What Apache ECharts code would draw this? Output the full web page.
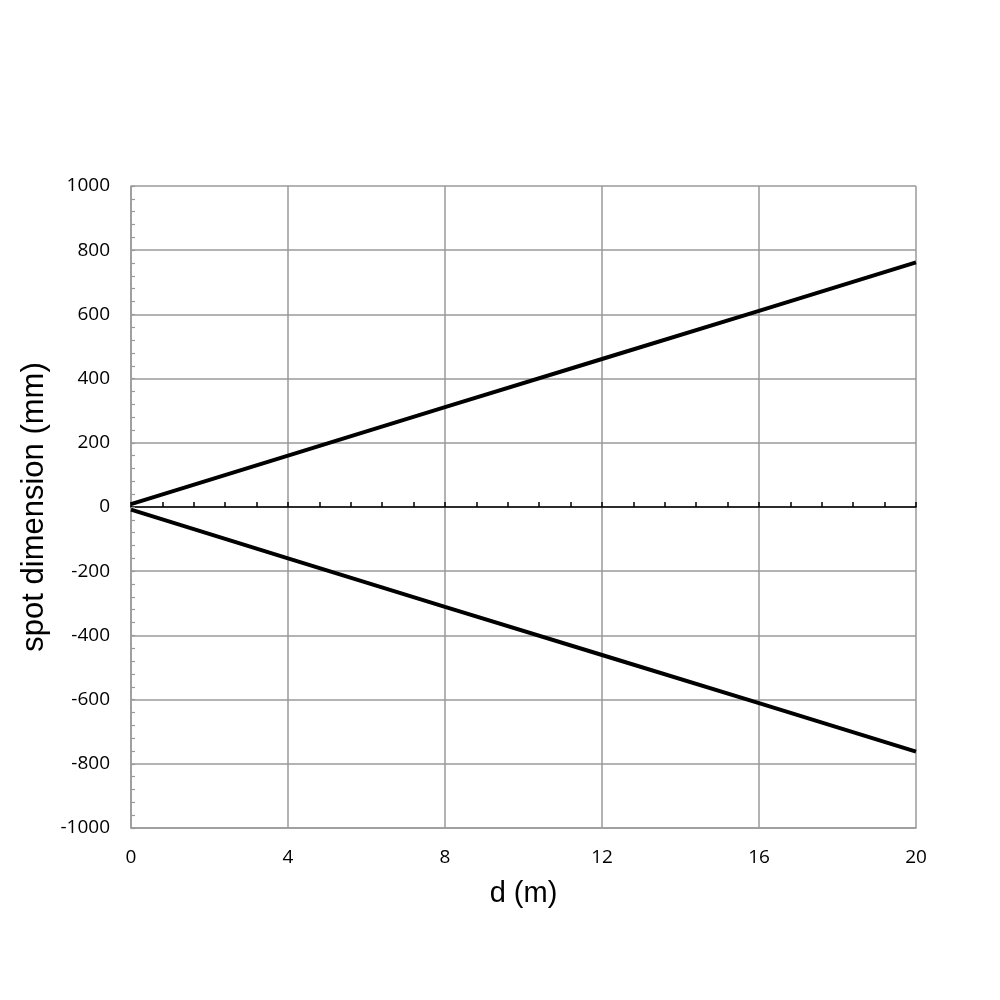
<!DOCTYPE html>
<html>
<head>
<meta charset="utf-8">
<script src="https://cdn.jsdelivr.net/npm/echarts@6/dist/echarts.min.js"></script>
<style>html,body{margin:0;padding:0;background:#fff}#c{width:1000px;height:1000px}</style>
</head>
<body>
<div id="c"></div>
<script>
var distances = [0, 4, 8, 12, 16, 20];
var upperEdge = [9, 160, 311, 461, 611, 762];
var lowerEdge = [-8, -160, -311, -461, -611, -762];
var xTitle = 'd (m)';
var yTitle = 'spot dimension (mm)';

function pairs(xs, ys) { return xs.map(function (x, i) { return [x, ys[i]]; }); }

var grey = '#9a9a9a';
var chart = echarts.init(document.getElementById('c'));
chart.setOption({
  animation: false,
  backgroundColor: '#fff',
  grid: { left: 131, right: 84, top: 186, bottom: 172 },
  xAxis: [{
    type: 'value', min: 0, max: 20, interval: 4, position: 'bottom',
    axisLine: { onZero: false, show: true, lineStyle: { color: grey, width: 1.5 } },
    axisTick: { show: false },
    axisLabel: { margin: 20, fontFamily: 'Open Sans', fontSize: 19, color: '#000' },
    splitLine: { show: true, lineStyle: { color: grey, width: 1.5 } },
    name: xTitle, nameLocation: 'middle', nameGap: 51,
    nameTextStyle: { fontFamily: 'Liberation Sans', fontSize: 29, color: '#000' }
  }, {
    type: 'value', min: 0, max: 20, interval: 0.8, position: 'bottom',
    axisLine: { onZero: true, onZeroAxisIndex: 0, show: true, lineStyle: { color: '#000', width: 1.5 } },
    axisTick: { show: true, inside: true, length: 5, lineStyle: { color: '#000', width: 1.5 } },
    axisLabel: { show: false },
    splitLine: { show: false }
  }],
  yAxis: {
    type: 'value', min: -1000, max: 1000, interval: 200,
    axisLine: { show: true, onZero: false, lineStyle: { color: grey, width: 1.5 } },
    axisTick: { show: true, inside: true, length: 4, lineStyle: { color: grey, width: 1.2 } },
    minorTick: { show: true, splitNumber: 5, length: 4, lineStyle: { color: grey, width: 1.2 } },
    axisLabel: { margin: 21, fontFamily: 'Open Sans', fontSize: 19, color: '#000',
      formatter: function (v) { return String(v); } },
    splitLine: { show: true, lineStyle: { color: grey, width: 1.5 } },
    name: yTitle, nameLocation: 'middle', nameGap: 76,
    nameTextStyle: { fontFamily: 'Liberation Sans', fontSize: 31, color: '#000' }
  },
  series: [{
    type: 'line', xAxisIndex: 0, data: pairs(distances, upperEdge),
    symbol: 'none', lineStyle: { color: '#000', width: 4 }
  }, {
    type: 'line', xAxisIndex: 0, data: pairs(distances, lowerEdge),
    symbol: 'none', lineStyle: { color: '#000', width: 4 }
  }]
});
</script>
</body>
</html>
